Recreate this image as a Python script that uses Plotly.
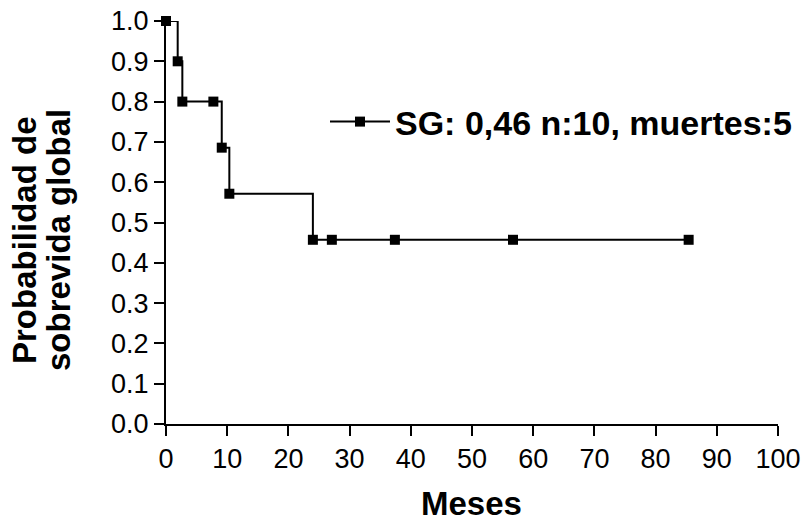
import plotly.graph_objects as go

# Kaplan-Meier data (months, survival probability)
meses = [0, 1.91, 2.67, 7.74, 9.11, 10.35, 24.0, 27.1, 37.4, 56.7, 85.4]
supervivencia = [1.0, 0.9, 0.8, 0.8, 0.6857, 0.5714, 0.4571, 0.4571, 0.4571, 0.4571, 0.4571]
serie_nombre = "SG: 0,46 n:10, muertes:5"
x_ticks = list(range(0, 101, 10))
y_ticks = [i / 10 for i in range(0, 11)]

FONT = "Liberation Sans, Arial, sans-serif"
L, R, T, B = 166, 24, 21, 97
PW, PH = 802 - L - R, 521 - T - B

fig = go.Figure()
fig.add_trace(go.Scatter(
    x=meses, y=supervivencia, mode="lines+markers",
    line=dict(shape="hv", color="black", width=2),
    marker=dict(symbol="square", size=10, color="black"),
    name=serie_nombre, cliponaxis=False,
))

fig.update_layout(
    width=802, height=521,
    margin=dict(l=L, r=R, t=T, b=B, autoexpand=False),
    paper_bgcolor="white", plot_bgcolor="white",
    font=dict(family=FONT, color="black", size=27),
    showlegend=True,
    legend=dict(x=(325 - L) / PW, y=(424 - 122) / PH, xanchor="left", yanchor="middle",
                font=dict(family=FONT, size=34, color="black", weight="bold"),
                itemwidth=60, bgcolor="rgba(0,0,0,0)"),
    xaxis=dict(range=[0, 100], tickvals=x_ticks, ticktext=[str(v) for v in x_ticks],
               showline=True, linecolor="black", linewidth=2,
               ticks="outside", ticklen=10, tickwidth=2, tickcolor="black",
               showgrid=False, zeroline=False, automargin=False,
               tickfont=dict(size=27)),
    yaxis=dict(range=[0, 1.0], tickvals=y_ticks, ticktext=[f"{v:.1f}" for v in y_ticks],
               showline=True, linecolor="black", linewidth=2,
               ticks="outside", ticklen=10, tickwidth=2, tickcolor="black",
               showgrid=False, zeroline=False, automargin=False,
               tickfont=dict(size=27)),
)

# axis titles
fig.add_annotation(text="<b>Meses</b>", xref="paper", yref="paper",
                   x=(471 - L) / PW, y=(424 - 503) / PH, showarrow=False,
                   font=dict(size=33, family=FONT), xanchor="center", yanchor="middle")
fig.add_annotation(text="<b>Probabilidad de</b>", xref="paper", yref="paper",
                   x=(24 - L) / PW, y=(424 - 240) / PH, textangle=-90, showarrow=False,
                   font=dict(size=33, family=FONT), xanchor="center", yanchor="middle")
fig.add_annotation(text="<b>sobrevida global</b>", xref="paper", yref="paper",
                   x=(58 - L) / PW, y=(424 - 240) / PH, textangle=-90, showarrow=False,
                   font=dict(size=33, family=FONT), xanchor="center", yanchor="middle")

fig.write_html("out.html", config={"displayModeBar": False},
               post_script="document.body.style.margin='0';document.body.style.overflow='hidden';")
